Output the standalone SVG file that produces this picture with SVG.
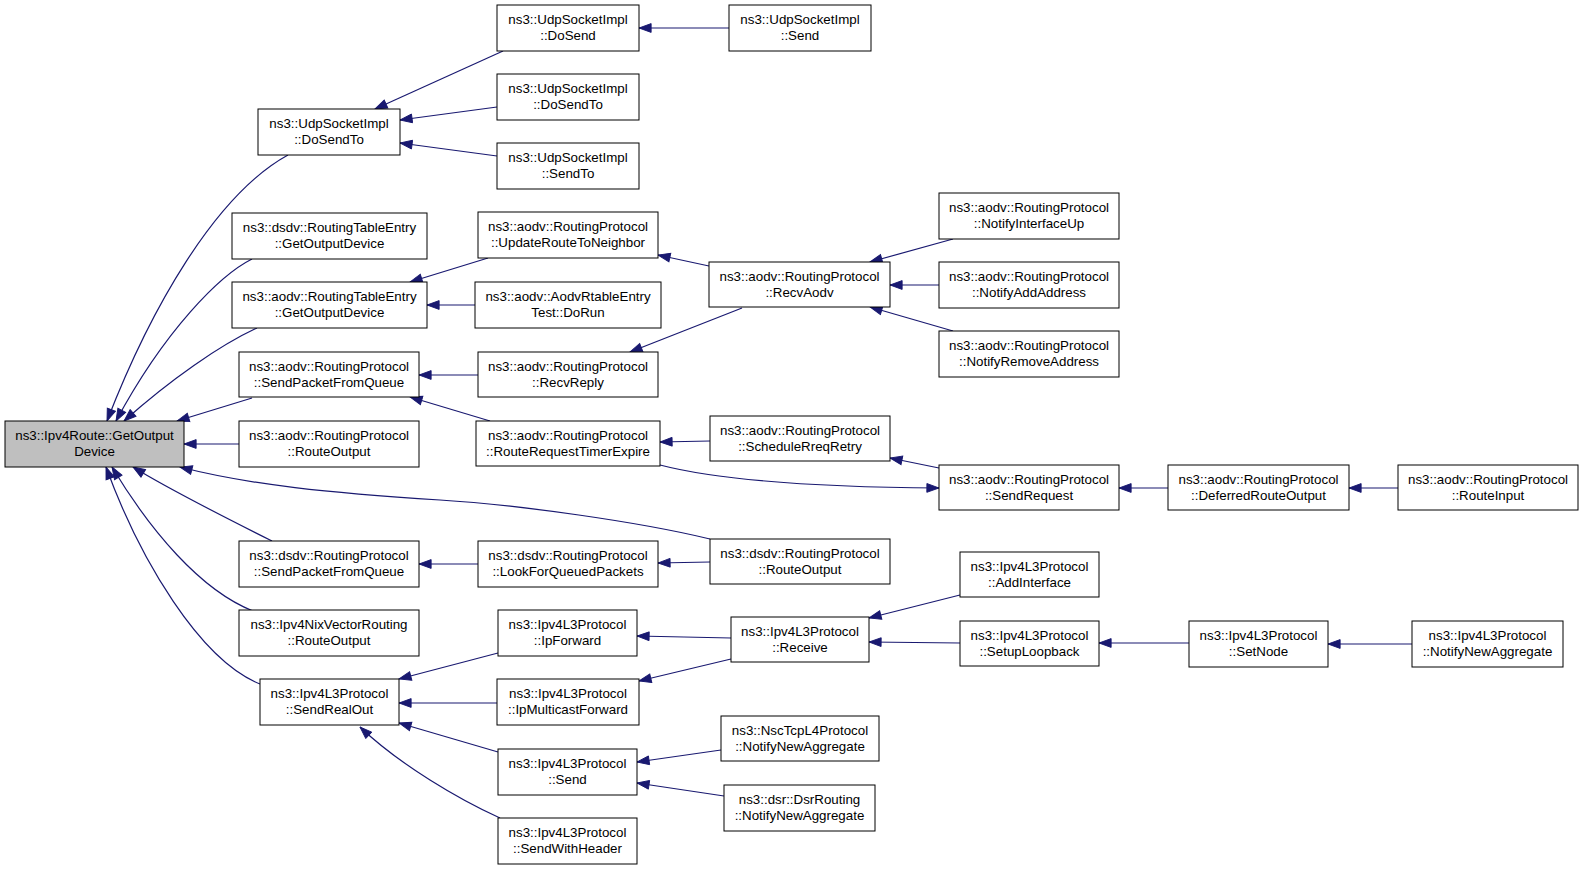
<svg xmlns="http://www.w3.org/2000/svg" width="1584" height="869" viewBox="0 0 1584 869">
<style>
.n rect{fill:#fff;stroke:#000;stroke-width:1}
.n.main rect{fill:#bfbfbf}
.n text{font-family:"Liberation Sans",Arial,Helvetica,sans-serif;font-size:13.33px;fill:#000;text-anchor:middle}
.e path{fill:none;stroke:#191970;stroke-width:1.2;marker-end:url(#ah)}
</style>
<defs>
<marker id="ah" markerUnits="userSpaceOnUse" markerWidth="14" markerHeight="12" viewBox="-1 -6 15 12" refX="13" refY="0" orient="auto">
<path d="M0,-4.7 L13,0 L0,4.7 Z" fill="#191970" stroke="#191970" stroke-width="1"/>
</marker>
</defs>
<rect width="1584" height="869" fill="#fff"/>
<g id="edges" class="e">
<path d="M288,155 C215,195 150,310 107,421"/>
<path d="M252,259 C220,275 165,330 116,421"/>
<path d="M257,328 C220,345 170,380 124,421"/>
<path d="M252,398 L177,421"/>
<path d="M239,444 L184,444"/>
<path d="M710,539 C640,522 520,505 440,500 C330,493 250,485 180,467"/>
<path d="M272,541 C230,520 170,490 133,467"/>
<path d="M253,611 C200,590 150,530 112,467"/>
<path d="M260,684 C200,660 140,560 106,467"/>
<path d="M503,51 L375,109"/>
<path d="M497,107 L400,120"/>
<path d="M497,156 L400,143"/>
<path d="M729,28 L639,28"/>
<path d="M488,258 L410,282"/>
<path d="M475,305 L427,305"/>
<path d="M709,266 L658,255"/>
<path d="M953,239 L870,262"/>
<path d="M939,285 L890,285"/>
<path d="M953,331 L870,307"/>
<path d="M742,308 L630,352"/>
<path d="M478,375 L419,375"/>
<path d="M490,421 L410,397"/>
<path d="M710,441 L660,442"/>
<path d="M939,468 L890,458"/>
<path d="M660,465 C710,478 800,487 939,488"/>
<path d="M1168,488 L1119,488"/>
<path d="M1398,488 L1349,488"/>
<path d="M478,564 L419,564"/>
<path d="M710,562 L658,563"/>
<path d="M498,653 L399,679"/>
<path d="M497,703 L399,703"/>
<path d="M498,752 L399,723"/>
<path d="M500,818 C460,800 400,765 360,727"/>
<path d="M731,638 L637,636"/>
<path d="M731,659 L639,681"/>
<path d="M960,595 L869,618"/>
<path d="M960,643 L869,642"/>
<path d="M1189,643 L1099,643"/>
<path d="M1412,644 L1328,644"/>
<path d="M721,750 L637,762"/>
<path d="M724,796 L637,783"/>
</g>
<g id="n0" class="n main"><rect x="5" y="421" width="179" height="46"/><text><tspan x="94.5" y="440">ns3::Ipv4Route::GetOutput</tspan><tspan x="94.5" y="456">Device</tspan></text></g>
<g id="n1" class="n"><rect x="258" y="109" width="142" height="46"/><text><tspan x="329" y="128">ns3::UdpSocketImpl</tspan><tspan x="329" y="144">::DoSendTo</tspan></text></g>
<g id="n2" class="n"><rect x="232" y="213" width="195" height="46"/><text><tspan x="329.5" y="232">ns3::dsdv::RoutingTableEntry</tspan><tspan x="329.5" y="248">::GetOutputDevice</tspan></text></g>
<g id="n3" class="n"><rect x="232" y="282" width="195" height="46"/><text><tspan x="329.5" y="301">ns3::aodv::RoutingTableEntry</tspan><tspan x="329.5" y="317">::GetOutputDevice</tspan></text></g>
<g id="n4" class="n"><rect x="239" y="352" width="180" height="45"/><text><tspan x="329" y="370.5">ns3::aodv::RoutingProtocol</tspan><tspan x="329" y="386.5">::SendPacketFromQueue</tspan></text></g>
<g id="n5" class="n"><rect x="239" y="421" width="180" height="46"/><text><tspan x="329" y="440">ns3::aodv::RoutingProtocol</tspan><tspan x="329" y="456">::RouteOutput</tspan></text></g>
<g id="n6" class="n"><rect x="239" y="541" width="180" height="46"/><text><tspan x="329" y="560">ns3::dsdv::RoutingProtocol</tspan><tspan x="329" y="576">::SendPacketFromQueue</tspan></text></g>
<g id="n7" class="n"><rect x="239" y="610" width="180" height="46"/><text><tspan x="329" y="629">ns3::Ipv4NixVectorRouting</tspan><tspan x="329" y="645">::RouteOutput</tspan></text></g>
<g id="n8" class="n"><rect x="260" y="679" width="139" height="46"/><text><tspan x="329.5" y="698">ns3::Ipv4L3Protocol</tspan><tspan x="329.5" y="714">::SendRealOut</tspan></text></g>
<g id="n9" class="n"><rect x="497" y="5" width="142" height="46"/><text><tspan x="568" y="24">ns3::UdpSocketImpl</tspan><tspan x="568" y="40">::DoSend</tspan></text></g>
<g id="n10" class="n"><rect x="497" y="74" width="142" height="46"/><text><tspan x="568" y="93">ns3::UdpSocketImpl</tspan><tspan x="568" y="109">::DoSendTo</tspan></text></g>
<g id="n11" class="n"><rect x="497" y="143" width="142" height="46"/><text><tspan x="568" y="162">ns3::UdpSocketImpl</tspan><tspan x="568" y="178">::SendTo</tspan></text></g>
<g id="n12" class="n"><rect x="478" y="212" width="180" height="46"/><text><tspan x="568" y="231">ns3::aodv::RoutingProtocol</tspan><tspan x="568" y="247">::UpdateRouteToNeighbor</tspan></text></g>
<g id="n13" class="n"><rect x="475" y="282" width="186" height="46"/><text><tspan x="568" y="301">ns3::aodv::AodvRtableEntry</tspan><tspan x="568" y="317">Test::DoRun</tspan></text></g>
<g id="n14" class="n"><rect x="478" y="352" width="180" height="45"/><text><tspan x="568" y="370.5">ns3::aodv::RoutingProtocol</tspan><tspan x="568" y="386.5">::RecvReply</tspan></text></g>
<g id="n15" class="n"><rect x="476" y="421" width="184" height="45"/><text><tspan x="568" y="439.5">ns3::aodv::RoutingProtocol</tspan><tspan x="568" y="455.5">::RouteRequestTimerExpire</tspan></text></g>
<g id="n16" class="n"><rect x="478" y="541" width="180" height="46"/><text><tspan x="568" y="560">ns3::dsdv::RoutingProtocol</tspan><tspan x="568" y="576">::LookForQueuedPackets</tspan></text></g>
<g id="n17" class="n"><rect x="498" y="610" width="139" height="46"/><text><tspan x="567.5" y="629">ns3::Ipv4L3Protocol</tspan><tspan x="567.5" y="645">::IpForward</tspan></text></g>
<g id="n18" class="n"><rect x="497" y="679" width="142" height="46"/><text><tspan x="568" y="698">ns3::Ipv4L3Protocol</tspan><tspan x="568" y="714">::IpMulticastForward</tspan></text></g>
<g id="n19" class="n"><rect x="498" y="749" width="139" height="46"/><text><tspan x="567.5" y="768">ns3::Ipv4L3Protocol</tspan><tspan x="567.5" y="784">::Send</tspan></text></g>
<g id="n20" class="n"><rect x="498" y="818" width="139" height="46"/><text><tspan x="567.5" y="837">ns3::Ipv4L3Protocol</tspan><tspan x="567.5" y="853">::SendWithHeader</tspan></text></g>
<g id="n21" class="n"><rect x="729" y="5" width="142" height="46"/><text><tspan x="800" y="24">ns3::UdpSocketImpl</tspan><tspan x="800" y="40">::Send</tspan></text></g>
<g id="n22" class="n"><rect x="709" y="262" width="181" height="45"/><text><tspan x="799.5" y="280.5">ns3::aodv::RoutingProtocol</tspan><tspan x="799.5" y="296.5">::RecvAodv</tspan></text></g>
<g id="n23" class="n"><rect x="710" y="416" width="180" height="45"/><text><tspan x="800" y="434.5">ns3::aodv::RoutingProtocol</tspan><tspan x="800" y="450.5">::ScheduleRreqRetry</tspan></text></g>
<g id="n24" class="n"><rect x="710" y="539" width="180" height="45"/><text><tspan x="800" y="557.5">ns3::dsdv::RoutingProtocol</tspan><tspan x="800" y="573.5">::RouteOutput</tspan></text></g>
<g id="n25" class="n"><rect x="731" y="617" width="138" height="45"/><text><tspan x="800" y="635.5">ns3::Ipv4L3Protocol</tspan><tspan x="800" y="651.5">::Receive</tspan></text></g>
<g id="n26" class="n"><rect x="721" y="716" width="158" height="45"/><text><tspan x="800" y="734.5">ns3::NscTcpL4Protocol</tspan><tspan x="800" y="750.5">::NotifyNewAggregate</tspan></text></g>
<g id="n27" class="n"><rect x="724" y="785" width="151" height="46"/><text><tspan x="799.5" y="804">ns3::dsr::DsrRouting</tspan><tspan x="799.5" y="820">::NotifyNewAggregate</tspan></text></g>
<g id="n28" class="n"><rect x="939" y="193" width="180" height="46"/><text><tspan x="1029" y="212">ns3::aodv::RoutingProtocol</tspan><tspan x="1029" y="228">::NotifyInterfaceUp</tspan></text></g>
<g id="n29" class="n"><rect x="939" y="262" width="180" height="46"/><text><tspan x="1029" y="281">ns3::aodv::RoutingProtocol</tspan><tspan x="1029" y="297">::NotifyAddAddress</tspan></text></g>
<g id="n30" class="n"><rect x="939" y="331" width="180" height="46"/><text><tspan x="1029" y="350">ns3::aodv::RoutingProtocol</tspan><tspan x="1029" y="366">::NotifyRemoveAddress</tspan></text></g>
<g id="n31" class="n"><rect x="939" y="465" width="180" height="45"/><text><tspan x="1029" y="483.5">ns3::aodv::RoutingProtocol</tspan><tspan x="1029" y="499.5">::SendRequest</tspan></text></g>
<g id="n32" class="n"><rect x="960" y="552" width="139" height="45"/><text><tspan x="1029.5" y="570.5">ns3::Ipv4L3Protocol</tspan><tspan x="1029.5" y="586.5">::AddInterface</tspan></text></g>
<g id="n33" class="n"><rect x="960" y="621" width="139" height="45"/><text><tspan x="1029.5" y="639.5">ns3::Ipv4L3Protocol</tspan><tspan x="1029.5" y="655.5">::SetupLoopback</tspan></text></g>
<g id="n34" class="n"><rect x="1168" y="465" width="181" height="45"/><text><tspan x="1258.5" y="483.5">ns3::aodv::RoutingProtocol</tspan><tspan x="1258.5" y="499.5">::DeferredRouteOutput</tspan></text></g>
<g id="n35" class="n"><rect x="1189" y="621" width="139" height="46"/><text><tspan x="1258.5" y="640">ns3::Ipv4L3Protocol</tspan><tspan x="1258.5" y="656">::SetNode</tspan></text></g>
<g id="n36" class="n"><rect x="1398" y="465" width="180" height="45"/><text><tspan x="1488" y="483.5">ns3::aodv::RoutingProtocol</tspan><tspan x="1488" y="499.5">::RouteInput</tspan></text></g>
<g id="n37" class="n"><rect x="1412" y="621" width="151" height="46"/><text><tspan x="1487.5" y="640">ns3::Ipv4L3Protocol</tspan><tspan x="1487.5" y="656">::NotifyNewAggregate</tspan></text></g>
</svg>
